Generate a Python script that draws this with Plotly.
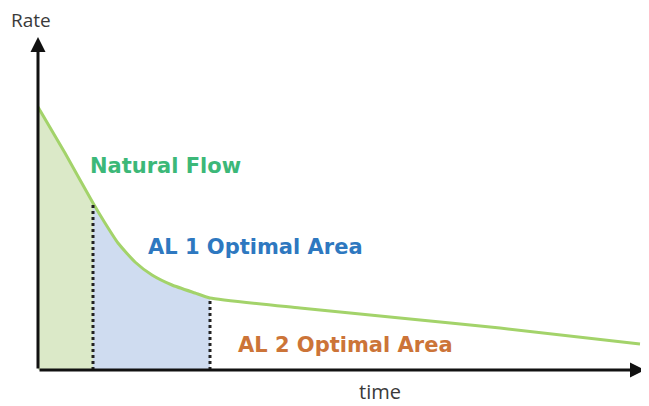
import plotly.graph_objects as go

# Decline curve (arbitrary units: time, rate)
time = [0, 27, 55, 67, 80, 97, 114, 134, 157, 172, 262, 362, 462, 602]
rate = [263, 217, 167, 147, 127, 108, 95, 85, 77, 72, 62, 52, 42, 26]

# Boundaries of the optimal areas (time)
t_al1 = 55
t_al2 = 172

fig = go.Figure()

def seg(t0, t1):
    xs, ys = [], []
    for t, r in zip(time, rate):
        if t0 <= t <= t1:
            xs.append(t); ys.append(r)
    return xs, ys

gx, gy = seg(0, t_al1)
bx, by = seg(t_al1, t_al2)
sm = 0.5
fig.add_trace(go.Scatter(x=gx, y=gy, fill="tozeroy", mode="none",
                         fillcolor="#dbe9c8", line=dict(shape="spline", smoothing=sm), hoverinfo="skip"))
fig.add_trace(go.Scatter(x=bx, y=by, fill="tozeroy", mode="none",
                         fillcolor="#cfdcf0", line=dict(shape="spline", smoothing=sm), hoverinfo="skip"))
fig.add_trace(go.Scatter(x=time, y=rate, mode="lines",
                         line=dict(color="#a3d36a", width=3, shape="spline", smoothing=sm),
                         hoverinfo="skip"))

r1 = rate[time.index(t_al1)]
r2 = rate[time.index(t_al2)]
fig.add_trace(go.Scatter(x=[t_al1, t_al1], y=[0, r1], mode="lines",
                         line=dict(color="#222", width=3, dash="dot"), hoverinfo="skip"))
fig.add_trace(go.Scatter(x=[t_al2, t_al2], y=[0, r2], mode="lines",
                         line=dict(color="#222", width=3, dash="dot"), hoverinfo="skip"))

# axes arrows
fig.add_annotation(x=607, y=0, ax=0, ay=0, xref="x", yref="y", axref="x", ayref="y",
                   showarrow=True, arrowhead=2, arrowsize=1, arrowwidth=3, arrowcolor="#111", text="")
fig.add_annotation(x=0, y=333, ax=0, ay=0, xref="x", yref="y", axref="x", ayref="y",
                   showarrow=True, arrowhead=2, arrowsize=1, arrowwidth=3, arrowcolor="#111", text="")

bold = "DejaVu Sans"
fig.add_annotation(x=127, y=204, text="<b>Natural Flow</b>", showarrow=False,
                   font=dict(family=bold, size=21, color="#3cb878"))
fig.add_annotation(x=217, y=123, text="<b>AL 1 Optimal Area</b>", showarrow=False,
                   font=dict(family=bold, size=21, color="#2e78c0"))
fig.add_annotation(x=307, y=25, text="<b>AL 2 Optimal Area</b>", showarrow=False,
                   font=dict(family=bold, size=21, color="#cc7438"))
fig.add_annotation(x=-0.0115, y=1.052, xref="paper", yref="paper", xanchor="center", yanchor="middle",
                   text="Rate", showarrow=False, borderpad=0,
                   font=dict(family="Open Sans", size=19, color="#3a3a3a"))
fig.add_annotation(x=0.563, y=-0.066, xref="paper", yref="paper", xanchor="center", yanchor="middle",
                   text="time", showarrow=False, borderpad=0,
                   font=dict(family="Open Sans", size=20, color="#3a3a3a"))

fig.update_layout(
    width=649, height=406, showlegend=False,
    margin=dict(l=30, r=12, t=29, b=44),
    paper_bgcolor="white", plot_bgcolor="white",
    xaxis=dict(range=[0, 607], visible=False),
    yaxis=dict(range=[0, 333], visible=False),
)
fig.write_html("out.html")
